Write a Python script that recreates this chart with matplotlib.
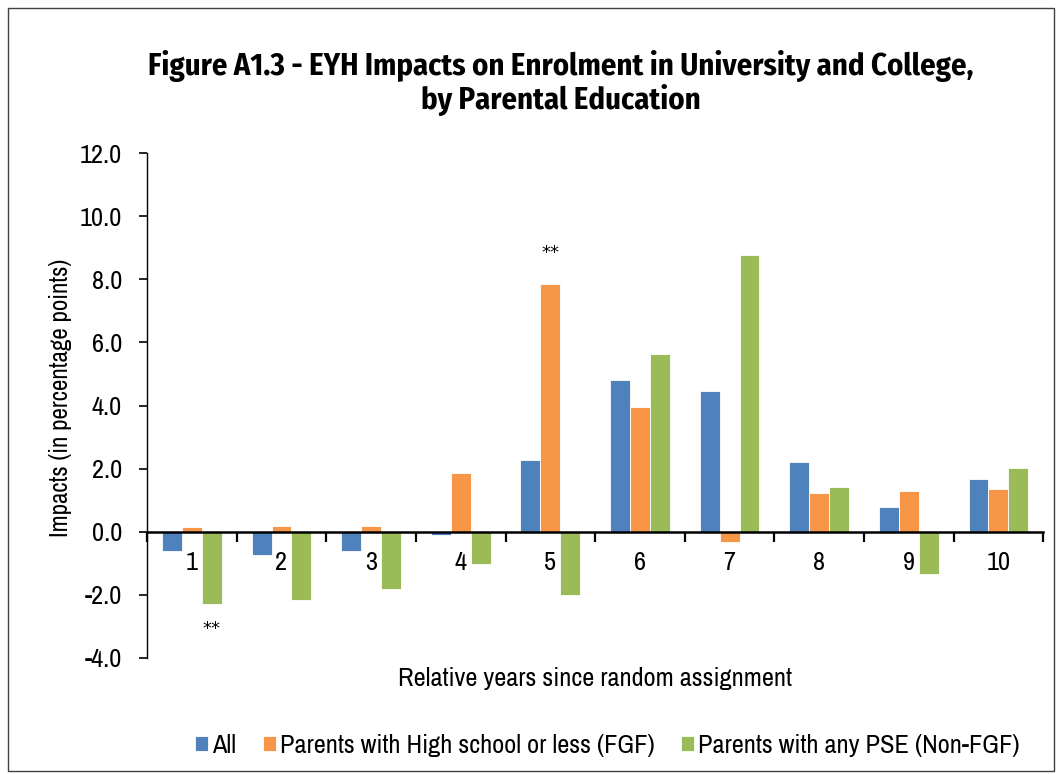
import matplotlib
matplotlib.use("Agg")
import matplotlib.pyplot as plt
import numpy as np
from matplotlib.patches import Rectangle
from matplotlib.font_manager import fontManager

fonts = {(f.name, f.weight) for f in fontManager.ttflist}
names = {n for n, _ in fonts}
body = "Archivo Narrow" if "Archivo Narrow" in names else "Liberation Sans"
bold_candidates = ["Archivo Narrow", "Fira Sans Condensed", "Barlow Semi Condensed", "Liberation Sans"]
title_font = next((n for n in bold_candidates
                   if any(nm == n and (w == 700 or w == "bold") for nm, w in fonts)), "DejaVu Sans")
plt.rcParams['font.family'] = [body, 'DejaVu Sans']

years = [1, 2, 3, 4, 5, 6, 7, 8, 9, 10]
all_vals = [-0.60, -0.75, -0.60, -0.10, 2.29, 4.81, 4.46, 2.21, 0.79, 1.67]
fgf_vals = [0.15, 0.18, 0.18, 1.86, 7.84, 3.94, -0.32, 1.22, 1.30, 1.34]
nonfgf_vals = [-2.29, -2.15, -1.81, -1.02, -2.01, 5.64, 8.78, 1.41, -1.35, 2.02]
series_names = ["All", "Parents with High school or less (FGF)", "Parents with any PSE (Non-FGF)"]
colors = ["#4F81BD", "#F79646", "#9BBB59"]
y_ticks = [-4, -2, 0, 2, 4, 6, 8, 10, 12]
# significance markers: (series index, year index)
stars = [(2, 0), (1, 4)]

fig = plt.figure(figsize=(10.58, 7.74), dpi=100)
ax = fig.add_axes([0.139, 0.150, 0.847, 0.652])

x = np.arange(len(years))
w = 1 / 4.5
series = [all_vals, fgf_vals, nonfgf_vals]
for i, (vals, c, n) in enumerate(zip(series, colors, series_names)):
    ax.bar(x + (i - 1) * w, vals, width=w, color=c, label=n,
           edgecolor="white", linewidth=0.6, zorder=2)

for si, yi in stars:
    v = series[si][yi]
    xpos = x[yi] + (si - 1) * w
    off = -18 if v < 0 else 23
    ax.annotate("**", (xpos, v), xytext=(0, off), textcoords="offset points",
                ha="center", va="center", fontsize=13, family="DejaVu Sans")

ax.set_xlim(-0.5, len(years) - 0.5)
ax.set_ylim(-4, 12)
ax.set_yticks(y_ticks)
ax.set_yticklabels([f"{t:.1f}" for t in y_ticks], fontsize=19)
ax.tick_params(axis="y", direction="out", length=6, width=1.2, pad=12)

ax.spines["top"].set_visible(False)
ax.spines["right"].set_visible(False)
ax.spines["bottom"].set_position(("data", 0))
ax.spines["bottom"].set_linewidth(1.8)
ax.spines["left"].set_linewidth(1.0)

ax.set_xticks(np.arange(len(years) + 1) - 0.5)
ax.set_xticklabels([])
ax.tick_params(axis="x", which="major", direction="out", length=7, width=1.6)
ax.set_xticks(x, minor=True)
ax.set_xticklabels([str(y) for y in years], minor=True, fontsize=19)
ax.tick_params(axis="x", which="minor", length=0, pad=14)

ax.set_ylabel("Impacts (in percentage points)", fontsize=18)
ax.yaxis.set_label_coords(-0.084, 0.515)
ax.text(0.5, -0.040, "Relative years since random assignment", transform=ax.transAxes,
        ha="center", va="center", fontsize=19)

fig.text(0.530, 0.893, "Figure A1.3 - EYH Impacts on Enrolment in University and College,\nby Parental Education",
         ha="center", va="center", fontsize=22, fontweight="bold", linespacing=1.1,
         family=[title_font, "DejaVu Sans"])

leg = fig.legend(loc="center", bbox_to_anchor=(0.574, 0.037), ncol=3, frameon=False,
                 fontsize=19, handlelength=0.5, handleheight=0.5, handletextpad=0.15,
                 columnspacing=1.0)

fig.patches.append(Rectangle((0.008, 0.004), 0.988, 0.986, transform=fig.transFigure,
                             fill=False, edgecolor="#404040", linewidth=1.0))

fig.savefig("out.png", dpi=100)
